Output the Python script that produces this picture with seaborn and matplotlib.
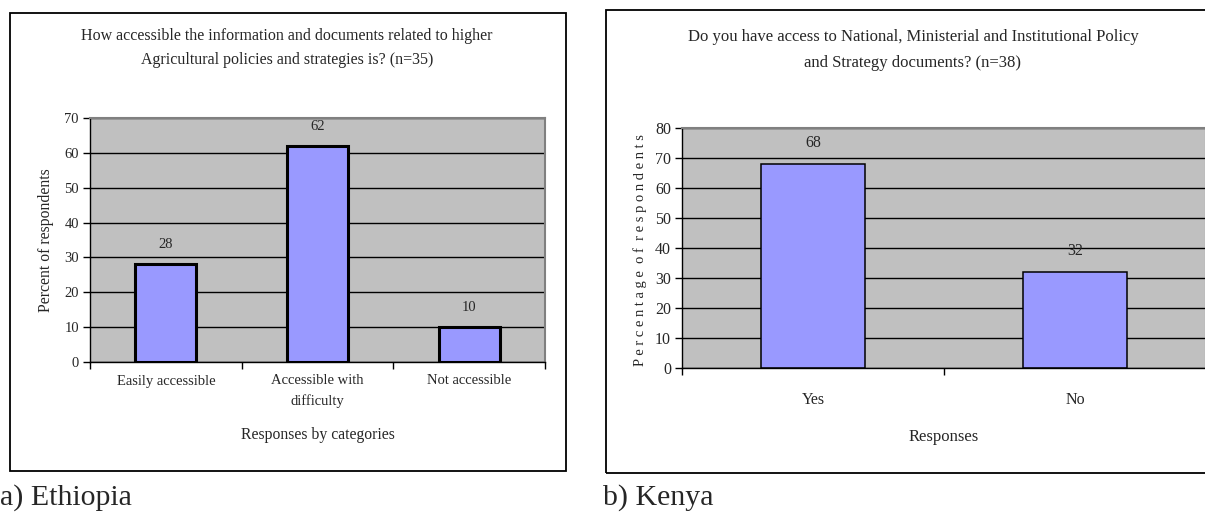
import matplotlib
matplotlib.use("Agg")
import matplotlib.pyplot as plt
from matplotlib.patches import Rectangle
from matplotlib.ticker import FixedLocator
import seaborn as sns
import pandas as pd

# Ethiopia survey
eth_categories = ["Easily accessible", "Accessible with\ndifficulty", "Not accessible"]
eth_values = [28, 62, 10]
eth_title = "How accessible the information and documents related to higher\nAgricultural policies and strategies is? (n=35)"

# Kenya survey
ken_categories = ["Yes", "No"]
ken_values = [68, 32]
ken_title = "Do you have access to National, Ministerial and Institutional Policy\nand Strategy documents? (n=38)"

sns.set_theme(style="white")
plt.rcParams["font.family"] = ["Liberation Serif", "DejaVu Serif"]

W, H = 1205, 513
fig = plt.figure(figsize=(W / 100, H / 100), dpi=100)
fig.patch.set_facecolor("white")


def px_box(x0, y0, x1, y1):
    """Convert a pixel box (top-left origin) to figure fractions."""
    return [x0 / W, 1 - y1 / H, (x1 - x0) / W, (y1 - y0) / H]


def frame(x0, y0, x1, y1):
    l, b, w, h = px_box(x0, y0, x1, y1)
    fig.patches.append(Rectangle((l, b), w, h, transform=fig.transFigure,
                                 fill=False, edgecolor="black", linewidth=1.3))


def style_axes(ax, ymax, fs, n):
    ax.set_facecolor("#C0C0C0")
    ax.set_ylim(0, ymax)
    ax.set_yticks(range(0, ymax + 1, 10))
    ax.set_xlim(-0.5, n - 0.5)
    ax.xaxis.set_minor_locator(FixedLocator([i - 0.5 for i in range(n + 1)]))
    ax.grid(axis="y", color="black", linewidth=1.0)
    ax.set_axisbelow(True)
    for s in ["top", "right"]:
        ax.spines[s].set_color("#808080")
        ax.spines[s].set_linewidth(1.5)
    for s in ["left", "bottom"]:
        ax.spines[s].set_color("black")
        ax.spines[s].set_linewidth(1.0)
    ax.tick_params(axis="y", direction="out", length=5, width=1, color="black",
                   left=True, labelsize=fs, pad=3)
    ax.tick_params(axis="x", which="major", length=0, labelsize=fs)
    ax.tick_params(axis="x", which="minor", direction="out", length=5, width=1,
                   color="black", bottom=True)


# ---- (a) Ethiopia ----
frame(10, 13, 566, 471)
ax1 = fig.add_axes(px_box(90, 118, 545, 362))
df1 = pd.DataFrame({"category": eth_categories, "value": eth_values})
sns.barplot(data=df1, x="category", y="value", ax=ax1, color="#9999FF",
            saturation=1, width=0.4, edgecolor="black", linewidth=2.2)
style_axes(ax1, 70, 10.5, len(eth_categories))
ax1.tick_params(axis="x", which="major", pad=9)
for lab in ax1.get_xticklabels():
    lab.set_linespacing(1.6)
ax1.set_xlabel("Responses by categories", fontsize=11.3, va="center")
ax1.xaxis.set_label_coords(0.5, (362 - 435) / 244)
ax1.set_ylabel("Percent of respondents", fontsize=11.3, va="center")
ax1.yaxis.set_label_coords((46 - 90) / 455, 0.5)
for i, v in enumerate(eth_values):
    ax1.annotate(str(v), (i, v), xytext=(0, 14), textcoords="offset points",
                 ha="center", va="center", fontsize=10.5)
fig.text(287 / W, 1 - 48 / H, eth_title, ha="center", va="center",
         fontsize=11.5, linespacing=1.6)
fig.text(0 / W, 1 - 505 / H, "a) Ethiopia", ha="left", va="baseline", fontsize=21.5)

# ---- (b) Kenya ----
frame(606, 10, 1220, 473)
ax2 = fig.add_axes(px_box(682, 128, 1206, 368))
df2 = pd.DataFrame({"category": ken_categories, "value": ken_values})
sns.barplot(data=df2, x="category", y="value", ax=ax2, color="#9999FF",
            saturation=1, width=0.4, edgecolor="black", linewidth=1.1)
style_axes(ax2, 80, 11.5, len(ken_categories))
ax2.tick_params(axis="x", which="major", pad=17)
ax2.set_xlabel("Responses", fontsize=12, va="center")
ax2.xaxis.set_label_coords(0.5, (368 - 437) / 240)
ax2.set_ylabel("P e r c e n t a g e  o f  r e s p o n d e n t s", fontsize=10.5, va="center")
ax2.yaxis.set_label_coords((640 - 682) / 524, 0.49)
for i, v in enumerate(ken_values):
    ax2.annotate(str(v), (i, v), xytext=(0, 15), textcoords="offset points",
                 ha="center", va="center", fontsize=11.5)
fig.text(913 / W, 1 - 50 / H, ken_title, ha="center", va="center",
         fontsize=12, linespacing=1.9)
fig.text(603 / W, 1 - 505 / H, "b) Kenya", ha="left", va="baseline", fontsize=21.5)

fig.savefig("out.png", dpi=100, facecolor="white")
